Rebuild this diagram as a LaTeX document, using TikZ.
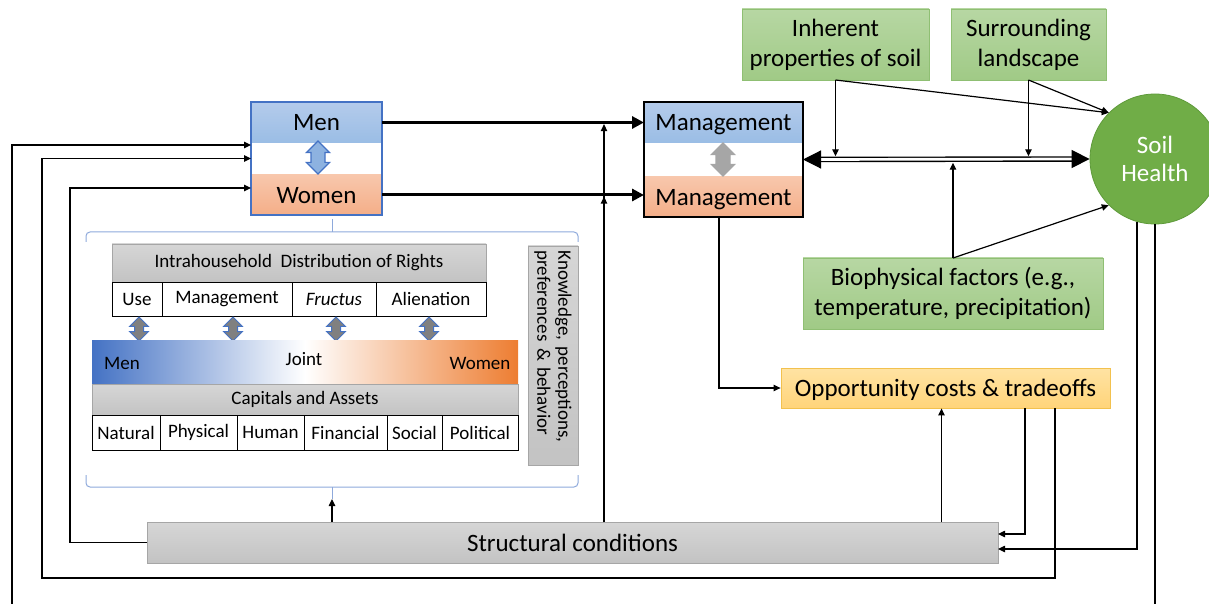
\documentclass[tikz,border=0pt]{standalone}
\usepackage{fontspec}
\setmainfont{Carlito}
\usetikzlibrary{arrows.meta,positioning,shapes.arrows}
\definecolor{blueA}{HTML}{B4CBEB}
\definecolor{blueB}{HTML}{9ABDE5}
\definecolor{orA}{HTML}{F8C7AC}
\definecolor{orB}{HTML}{F4AE88}
\definecolor{gyA}{HTML}{D6D6D6}
\definecolor{gyB}{HTML}{C3C3C3}
\definecolor{gyBd}{HTML}{A6A6A6}
\definecolor{grA}{HTML}{B7D7A3}
\definecolor{grB}{HTML}{A0CA86}
\definecolor{grBd}{HTML}{8FBF73}
\definecolor{opA}{HTML}{FFE3A3}
\definecolor{opB}{HTML}{FFD47A}
\definecolor{opBd}{HTML}{F2C14E}
\definecolor{soil}{HTML}{70AD47}
\definecolor{soilBd}{HTML}{5E9A3A}
\definecolor{barB}{HTML}{4472C4}
\definecolor{barO}{HTML}{ED7D31}
\definecolor{mwBd}{HTML}{4472C4}
\definecolor{brc}{HTML}{8EA9DB}

\begin{document}
\begin{tikzpicture}[x=0.5pt,y=-0.5pt,font=\fontsize{12.5}{15}\selectfont,
  band/.style={minimum height=20.5pt,inner sep=0pt,outer sep=0pt,text height=8.3pt,text depth=0pt},
  bl/.style={band,top color=blueA,bottom color=blueB},
  orb/.style={band,top color=orA,bottom color=orB},
  frm/.style={line width=0.8pt,inner sep=0pt,outer sep=0pt},
  gbx/.style={draw=grBd,top color=grA,bottom color=grB,minimum height=35.5pt,align=center,inner sep=0pt,outer sep=0pt},
  gry/.style={draw=gyBd,top color=gyA,bottom color=gyB,inner sep=0pt,outer sep=0pt,font=\fontsize{9.5}{10.5}\selectfont},
  cell/.style={draw,fill=white,inner sep=0pt,outer sep=0pt,minimum height=17pt,font=\fontsize{9.5}{11}\selectfont},
  small/.style={font=\fontsize{9.5}{11}\selectfont,inner sep=0pt},
  darr/.style={double arrow,rotate=90,inner xsep=0pt,inner ysep=2pt,minimum height=12pt,minimum width=8.8pt,double arrow head extend=2.4pt,draw=mwBd,fill=gray,line width=0.5pt},
  bigdarr/.style={double arrow,rotate=90,inner xsep=0pt,inner ysep=3.2pt,minimum height=16.5pt,minimum width=11pt,double arrow head extend=2.3pt,line width=0.6pt},
  arr/.style={-{Triangle[length=3.5pt,width=3.2pt]},line width=0.6pt},
  thk/.style={-{Triangle[length=6pt,width=6pt]},line width=1.5pt},
  dbl/.style={double=white,double distance=1.35pt,line width=0.7pt},
  bigtip/.style={-{Triangle[length=9pt,width=9pt]},line width=0.6pt},
  brace/.style={draw=brc,line width=0.5pt}]
  \useasboundingbox (0,0) rectangle (1209,604);
  \clip (0,0) rectangle (1209,604);

  % men / women
  \node[bl,minimum width=65.5pt](men) at (316.5,122.5){Men};
  \node[orb,minimum width=65.5pt,minimum height=20pt](women) at (316.5,195){Women};
  \node[frm,draw=mwBd,minimum width=65.5pt,minimum height=56.5pt](mw) at (316.5,158.5){};
  \node[bigdarr,draw=mwBd,fill=blueB!85!mwBd](mwa) at (318,157.5){};

  % management
  \node[bl,minimum width=79.5pt](mgt) at (723.5,122.5){Management};
  \node[orb,minimum width=79.5pt,minimum height=20pt](mgb) at (723.5,197){Management};
  \node[frm,draw,minimum width=79.5pt,minimum height=57.5pt](mg) at (723.5,159.5){};
  \node[bigdarr,draw=gyBd,fill=gyBd](mga) at (723,159.5){};

  % soil side
  \node[gbx,minimum width=93.5pt](inh) at (835.5,44.5){Inherent\\properties of soil};
  \node[gbx,minimum width=77.5pt](sur) at (1028.5,44.5){Surrounding\\landscape};
  \node[gbx,minimum width=150pt](bio) at (953,293.5){Biophysical factors (e.g.,\\temperature, precipitation)};
  \node[circle,draw=soilBd,fill=soil,minimum size=65pt,inner sep=0pt,text=white,align=center,font=\fontsize{12.5}{14}\selectfont](sh) at (1155,159){Soil\\Health};
  \node[draw=opBd,top color=opA,bottom color=opB,minimum width=164.5pt,minimum height=20pt,inner sep=0pt,text height=8.3pt,text depth=0pt](opp) at (945.5,388){Opportunity costs \& tradeoffs};
  \node[gry,font=\fontsize{12.5}{15}\selectfont,minimum width=425.5pt,minimum height=20.5pt](st) at (572.5,542.5){Structural conditions};

  % rights
  \node[gry,minimum width=187pt,minimum height=19pt](idr) at (299,263){Intrahousehold~ Distribution of Rights};
  \node[cell,minimum width=25pt,anchor=north west](use) at (idr.south west){Use};
  \node[cell,minimum width=65pt,right=0pt of use](mgr){Management};
  \node[cell,minimum width=42pt,right=0pt of mgr](fru){\textit{Fructus}};
  \node[cell,minimum width=55pt,right=0pt of fru](ali){Alienation};
  \node[darr](a1) at (139,329){};
  \node[darr](a2) at (233,329){};
  \node[darr](a3) at (336,329){};
  \node[darr](a4) at (429,329){};

  % men - joint - women
  \node[minimum width=213pt,minimum height=22pt,inner sep=0pt,left color=barB,right color=barO,middle color=white](bar) at (305,362){};
  \node[small](bm) at (122,363){Men};
  \node[small](bj) at (304,359){Joint};
  \node[small](bw) at (480,363){Women};

  % capitals
  \node[gry,minimum width=213pt,minimum height=15.5pt](cap) at (305,399.5){Capitals and Assets};
  \node[cell,minimum width=34pt,minimum height=17.5pt,anchor=north west](nat) at (cap.south west){Natural};
  \node[cell,minimum width=38.5pt,minimum height=17.5pt,right=0pt of nat](phy){Physical};
  \node[cell,minimum width=33.5pt,minimum height=17.5pt,right=0pt of phy](hum){Human};
  \node[cell,minimum width=41.5pt,minimum height=17.5pt,right=0pt of hum](fin){Financial};
  \node[cell,minimum width=27.5pt,minimum height=17.5pt,right=0pt of fin](soc){Social};
  \node[cell,minimum width=38pt,minimum height=17.5pt,right=0pt of soc](pol){Political};
  \node[gry,rotate=-90,minimum width=109.5pt,minimum height=25pt,text width=105pt,align=left](kpb) at (553,355.5){Knowledge, perceptions,\\preferences \& behavior};

  % braces
  \draw[brace,rounded corners=2pt](86,242)--(86,232)--(578,232)--(578,242);
  \draw[brace](332,232)--(332,219);
  \draw[brace,rounded corners=2pt](86,475)--(86,487)--(578,487)--(578,475);
  \draw[brace](332,487)--(332,499);
  \coordinate(brb) at (332,499);

  % helper points
  \coordinate(c604) at (604,0);
  \coordinate(c70) at (70,0);
  \coordinate(c42) at (42,578);
  \coordinate(c12) at (12,625);
  \coordinate(win) at ([yshift=3.5pt]women.west);
  \coordinate(oin) at ([xshift=-2pt]opp.south);
  \coordinate(dup) at ([yshift=1.6pt]mg.east);
  \coordinate(ddn) at ([yshift=-1.6pt]mg.east);

  % connectors
  \draw[thk](men.east)--(mgt.west);
  \draw[thk](women.east)--(women.east -| mgt.west);
  \draw[arr,shorten >=0.8pt](st.north -| c604)--(c604 |- men.east);
  \draw[arr,shorten >=0.8pt](st.north -| c604)--(c604 |- women.east);
  \draw[arr](st.north -| brb)--(brb);
  \draw[arr](st.west)--(st.west -| c70)|-(win);
  \draw[arr]([xshift=54.75pt]opp.south)|-(c42)|-(mw.west);
  \draw[arr](sh.south)|-(c12)|-([yshift=6.75pt]mw.west);
  \draw[arr](sh.-106)|-([yshift=-3.25pt]st.east);
  \draw[arr]([xshift=39.75pt]opp.south)|-([yshift=4.25pt]st.east);
  \draw[arr](st.north -| oin)--(oin);
  \draw[arr]([xshift=-2.25pt]mg.south)|-(opp.west);
  \draw[dbl,shorten <=8pt,shorten >=8pt](mg.east)--(sh.west);
  \draw[bigtip]([xshift=1pt]mg.east)--(mg.east);
  \draw[bigtip]([xshift=-1pt]sh.west)--(sh.west);
  \draw[arr](inh.south)--(inh.south |- dup);
  \draw[arr](sur.south)--(sur.south |- dup);
  \draw[arr](inh.south)--(sh.135);
  \draw[arr](sur.south)--(sh.135);
  \draw[arr](bio.north)--(bio.north |- ddn);
  \draw[arr](bio.north)--(sh.-135);
\end{tikzpicture}
\end{document}
